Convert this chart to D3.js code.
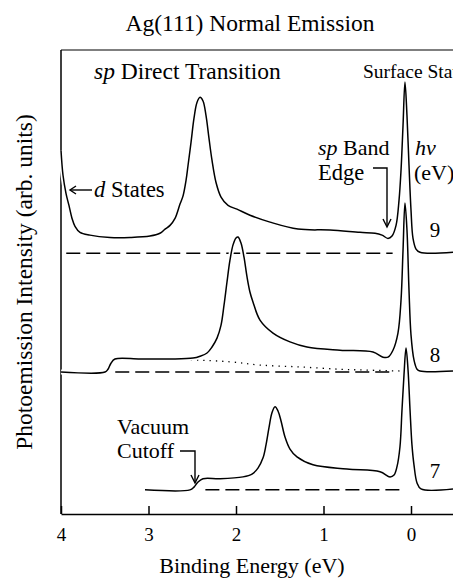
<!DOCTYPE html>
<html>
<head>
<meta charset="utf-8">
<script src="https://cdn.jsdelivr.net/npm/d3@7"></script>
<style>
  body { margin: 0; background: #fff; }
</style>
</head>
<body>
<svg id="chart"></svg>
<script>
var width = 453, height = 578;
var serif = "'Liberation Serif', 'DejaVu Serif', 'Times New Roman', Times, serif";

// binding energy (eV) tick values
var energyTicks = [4, 3, 2, 1, 0];
// photon energies (eV) of the three spectra, top to bottom
var photonEnergies = ["9", "8", "7"];
// vertical offset of each spectrum's zero line (arb. units)
var baselineOffsets = [56.2, 30.6, 5.2];
// extent of the dashed zero line under each spectrum [from, to] in eV
var zeroLineRanges = [[3.94, 0.21], [3.38, 0.18], [2.35, 0.10]];

// spectra: [binding energy, intensity above own zero line]
var spectrum9 = [
  [4.00, 22.2], [3.977, 16.8], [3.943, 12.9], [3.909, 10.3], [3.874, 7.5], [3.840, 5.8],
  [3.783, 4.5], [3.669, 3.9], [3.44, 3.4], [3.211, 3.4], [2.983, 3.7], [2.869, 4.3],
  [2.811, 5.2], [2.754, 6.0], [2.697, 7.5], [2.64, 10.6], [2.606, 12.3], [2.571, 15.7],
  [2.549, 18.8], [2.514, 23.9], [2.48, 29.1], [2.446, 32.5], [2.411, 33.6], [2.377, 32.8],
  [2.343, 29.7], [2.309, 24.8], [2.274, 20.0], [2.229, 15.3], [2.171, 12.1], [2.091, 10.3],
  [1.989, 9.5], [1.84, 8.2], [1.611, 6.7], [1.291, 5.2], [0.926, 5.0], [0.583, 4.5],
  [0.411, 4.3], [0.331, 3.9], [0.263, 3.2], [0.217, 3.7], [0.171, 6.0], [0.137, 11.4],
  [0.114, 17.9], [0.091, 27.6], [0.069, 36.9], [0.046, 29.7], [0.023, 19.0], [0.0, 9.3],
  [-0.023, 3.2], [-0.057, 0.9], [-0.103, 0.2], [-0.48, 0.2]
];

var spectrum8 = [
  [4.00, 0], [3.497, 0], [3.463, 0.6], [3.429, 1.9], [3.383, 2.8], [3.097, 2.8],
  [2.754, 2.8], [2.491, 3.0], [2.411, 3.4], [2.331, 4.1], [2.274, 5.4], [2.217, 7.3],
  [2.171, 10.1], [2.137, 14.4], [2.103, 19.4], [2.069, 24.1], [2.034, 27.4], [2.0, 28.9],
  [1.977, 29.1], [1.943, 27.8], [1.909, 24.8], [1.874, 20.5], [1.84, 17.2], [1.806, 15.1],
  [1.726, 11.2], [1.577, 8.4], [1.383, 6.5], [1.189, 5.4], [0.811, 4.7], [0.434, 4.3],
  [0.32, 3.2], [0.263, 3.2], [0.206, 4.7], [0.149, 8.4], [0.114, 15.5], [0.091, 26.3],
  [0.069, 36.4], [0.046, 30.6], [0.023, 17.7], [0.0, 8.0], [-0.034, 2.6], [-0.069, 0.6],
  [-0.103, 0.2], [-0.48, 0.2]
];

// secondary-electron background under the hv = 8 spectrum (dotted)
var background8 = [
  [3.383, 2.8], [2.526, 2.6], [2.069, 2.2], [1.726, 1.5], [1.269, 1.1], [0.811, 0.6],
  [0.469, 0.4], [0.091, 0.2]
];

var spectrum7 = [
  [3.04, 0], [2.526, 0], [2.48, 0.6], [2.434, 1.7], [2.377, 2.4], [2.183, 2.4],
  [1.92, 2.8], [1.817, 3.4], [1.749, 4.7], [1.691, 6.9], [1.657, 9.7], [1.623, 13.4],
  [1.589, 16.6], [1.554, 17.9], [1.52, 17.0], [1.486, 14.9], [1.44, 11.4], [1.383, 8.8],
  [1.303, 7.1], [1.12, 5.4], [0.731, 4.5], [0.354, 3.9], [0.24, 2.8], [0.194, 3.2],
  [0.16, 5.0], [0.126, 9.3], [0.103, 17.2], [0.08, 24.8], [0.057, 30.6], [0.034, 25.9],
  [0.011, 17.2], [-0.011, 9.7], [-0.034, 5.4], [-0.069, 1.5], [-0.114, 0.2], [-0.48, 0.2]
];

var spectra = [spectrum9, spectrum8, spectrum7];

var svg = d3.select("#chart")
    .attr("width", width)
    .attr("height", height)
    .attr("font-family", serif);

var x = d3.scaleLinear().domain([4, -0.48]).range([61, 453]);
var y = d3.scaleLinear().domain([0, 100]).range([514, 50]);

// title
svg.append("text")
    .attr("x", 250)
    .attr("y", 31)
    .attr("font-family", serif)
    .attr("font-size", 23.5)
    .style("text-anchor", "middle")
    .text("Ag(111) Normal Emission");

// frame: left and top
svg.append("line")
    .attr("x1", x(4)).attr("x2", x(4))
    .attr("y1", y(100)).attr("y2", y(0))
    .attr("stroke", "#000").attr("stroke-width", 1.5);
svg.append("line")
    .attr("x1", x(4)).attr("x2", width)
    .attr("y1", y(100)).attr("y2", y(100))
    .attr("stroke", "#000").attr("stroke-width", 1.2);

// bottom axis, ticks pointing in
var xAxis = svg.append("g")
    .attr("transform", "translate(0," + y(0) + ")")
    .call(d3.axisBottom(x)
      .tickValues(energyTicks)
      .tickSizeInner(-8)
      .tickSizeOuter(0)
      .tickPadding(14)
      .tickFormat(d3.format("d")));
xAxis.attr("font-family", serif).attr("font-size", 19);
xAxis.select(".domain").attr("stroke-width", 1.5);
xAxis.selectAll(".tick line").attr("stroke-width", 1.5);

svg.append("text")
    .attr("x", 252)
    .attr("y", 573)
    .attr("font-family", serif)
    .attr("font-size", 22)
    .style("text-anchor", "middle")
    .text("Binding Energy (eV)");

svg.append("text")
    .attr("transform", "translate(32,282) rotate(-90)")
    .attr("font-family", serif)
    .attr("font-size", 23.5)
    .style("text-anchor", "middle")
    .text("Photoemission Intensity (arb. units)");

// dashed zero lines
svg.selectAll(".zero-line")
    .data(zeroLineRanges)
  .enter().append("line")
    .classed("zero-line", true)
    .attr("x1", d => x(d[0]))
    .attr("x2", d => x(d[1]))
    .attr("y1", (d, i) => y(baselineOffsets[i]))
    .attr("y2", (d, i) => y(baselineOffsets[i]))
    .attr("stroke", "#000")
    .attr("stroke-width", 1.5)
    .attr("stroke-dasharray", "14,6");

// dotted background under hv = 8
svg.append("path")
    .datum(background8)
    .attr("d", d3.line()
      .curve(d3.curveCatmullRom.alpha(0.5))
      .x(d => x(d[0]))
      .y(d => y(d[1] + baselineOffsets[1])))
    .attr("fill", "none")
    .attr("stroke", "#000")
    .attr("stroke-width", 1.3)
    .attr("stroke-dasharray", "1.3,5");

// spectra, with a thin white halo so crossings break the dashes
spectra.forEach(function(spec, i) {
  var gen = d3.line()
      .curve(d3.curveCatmullRom.alpha(0.5))
      .x(d => x(d[0]))
      .y(d => y(d[1] + baselineOffsets[i]));
  svg.append("path")
      .datum(spec)
      .attr("d", gen)
      .attr("fill", "none")
      .attr("stroke", "#fff")
      .attr("stroke-width", 5);
  svg.append("path")
      .datum(spec)
      .attr("d", gen)
      .attr("fill", "none")
      .attr("stroke", "#000")
      .attr("stroke-width", 1.5)
      .attr("stroke-linejoin", "round");
});

// photon energy labels
var hvLabelY = [237, 362, 478];
svg.selectAll(".hv-label")
    .data(photonEnergies)
  .enter().append("text")
    .classed("hv-label", true)
    .attr("x", 435)
    .attr("y", (d, i) => hvLabelY[i])
    .attr("font-family", serif)
    .attr("font-size", 21)
    .style("text-anchor", "middle")
    .text(d => d);

// annotations
function label(xp, yp, size, parts) {
  var t = svg.append("text")
      .attr("x", xp)
      .attr("y", yp)
      .attr("font-family", serif)
      .attr("font-size", size);
  parts.forEach(function(p) {
    t.append("tspan")
        .style("font-style", p[1] ? "italic" : "normal")
        .text(p[0]);
  });
  return t;
}

label(94, 79, 23.5, [["sp", true], [" Direct Transition", false]]);
label(363, 78, 19.5, [["Surface State", false]]);
label(94, 197, 22.5, [["d", true], [" States", false]]);
label(318, 155, 22, [["sp", true], [" Band", false]]);
label(318, 180, 22.5, [["Edge", false]]);
label(415, 155, 22, [["h\u03BD", true]]);
label(414, 180, 22, [["(eV)", false]]);
label(117, 434, 22, [["Vacuum", false]]);
label(117, 458, 22, [["Cutoff", false]]);

function arrow(pts, head) {
  svg.append("path")
      .attr("d", d3.line()(pts))
      .attr("fill", "none")
      .attr("stroke", "#000")
      .attr("stroke-width", 1.4);
  svg.append("path")
      .attr("d", d3.line()(head))
      .attr("fill", "none")
      .attr("stroke", "#000")
      .attr("stroke-width", 1.4)
      .attr("stroke-linejoin", "miter");
}

// d States arrow, pointing left at the curve
arrow([[92, 190], [70, 190]], [[76, 186], [70, 190], [76, 194]]);
// sp band edge arrow, down to the dip
arrow([[373, 168], [387, 168], [387, 226]], [[383, 219], [387, 227], [391, 219]]);
// vacuum cutoff arrow
arrow([[180, 451], [195, 451], [195, 482]], [[191, 475], [195, 483], [199, 475]]);
</script>
</body>
</html>
